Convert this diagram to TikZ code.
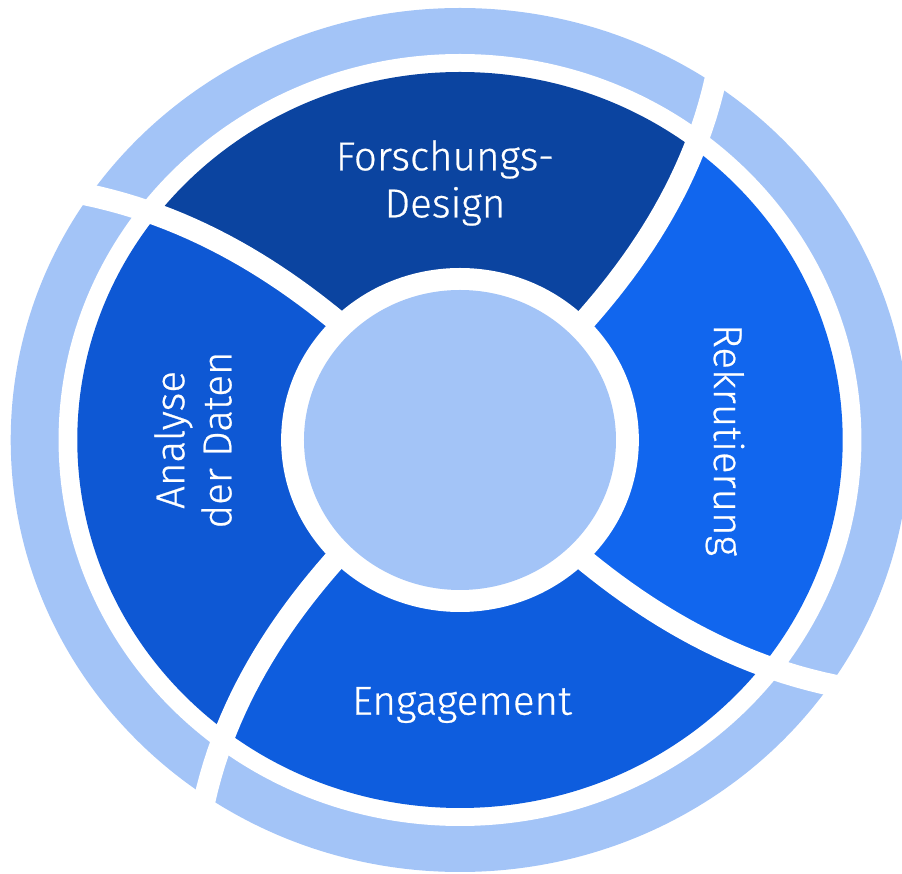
\documentclass[tikz,border=0pt]{standalone}
\usepackage{fontspec}
\setmainfont{Fira Sans}[UprightFont={* Light}, UprightFeatures={FakeBold=0.6}]
\definecolor{ringBlue}{HTML}{A3C4F7}
\definecolor{designBlue}{HTML}{0B44A0}
\definecolor{recruitBlue}{HTML}{1166EE}
\definecolor{engageBlue}{HTML}{0E5DDE}
\definecolor{analyseBlue}{HTML}{0E58D4}
% one coloured wedge between gap #2 and the next one
\newcommand{\phaseWedge}[2]{%
  \fill[#1] (0,0) -- plot[domain=150:480, samples=30, variable=\rr]
      ({gapAng(#2,\rr)}:\rr) -- (#2+58:700)
    -- plot[domain=480:150, samples=30, variable=\rr]
      ({gapAng(#2+90,\rr)}:\rr) -- cycle;}
\tikzset{%
  % Specifications for style of shapes and labels:
      gapLine/.style = {draw=white, line width=2.2mm},
   phaseLabel/.style = {text=white, align=center, inner sep=0pt,
                        font=\fontsize{11.5}{13.4}\selectfont},
}

\begin{document}
\begin{tikzpicture}[x=0.1mm, y=0.1mm,
    declare function={gapAng(\b,\s)=\b+0.02818*(\s-174)+(\s-174)*0.00696*(\s-174)*0.00696;}]
  \useasboundingbox (-460,-434) rectangle (442,440);
  \begin{scope}[xscale=1.04]
    % outer ring
    \fill[ringBlue] (0,0) circle[radius=432];
    \fill[white] (0,0) circle[radius=386];
    % the four phases
    \begin{scope}
      \clip (0,0) circle[radius=368];
      \phaseWedge{designBlue}{45}
      \phaseWedge{analyseBlue}{135}
      \phaseWedge{engageBlue}{225}
      \phaseWedge{recruitBlue}{-45}
    \end{scope}
    % gaps between the phases
    \foreach \a in {45,135,225,315}
      \draw[gapLine] plot[domain=140:470, samples=30, variable=\rr]
        ({gapAng(\a,\rr)}:\rr);
    % hub in the middle
    \fill[white] (0,0) circle[radius=172];
    \fill[ringBlue] (0,0) circle[radius=150];
  \end{scope}
  % Specification of labels
  \node (design)  [phaseLabel] at (-15,257) {Forschungs-\\Design};
  \node (recruit) [phaseLabel, rotate=-90] at (265,0) {Rekrutierung};
  \node (engage)  [phaseLabel] at (2,-265) {Engagement};
  \node (analyse) [phaseLabel, rotate=90] at (-267,0) {Analyse\\der Daten};
\end{tikzpicture}
\end{document}
